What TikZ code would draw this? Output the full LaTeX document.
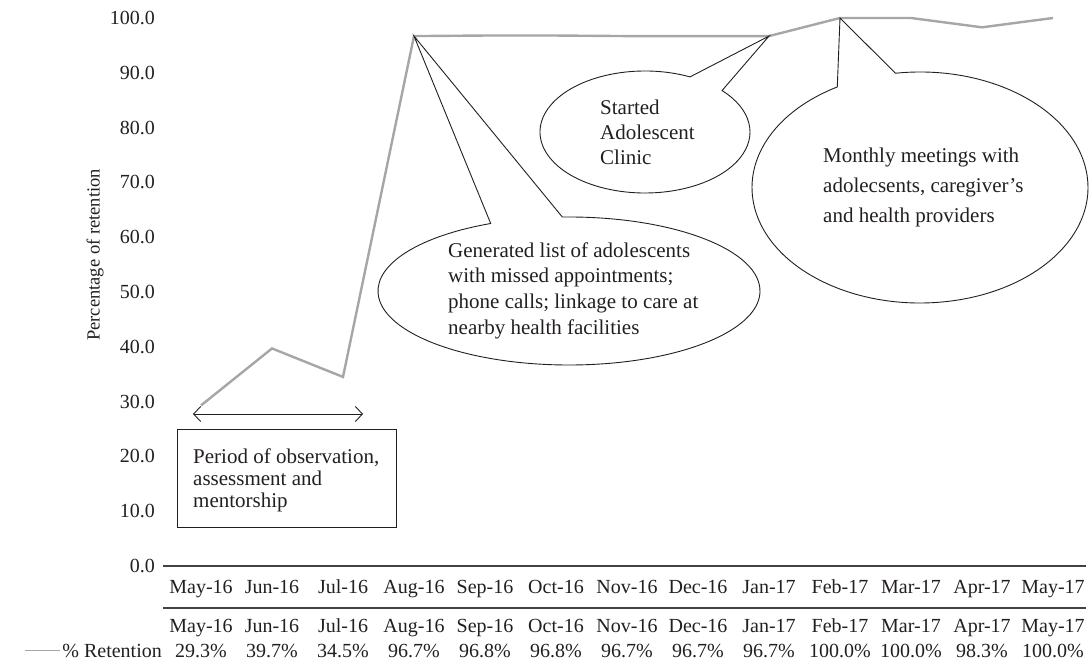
\documentclass[tikz,border=0pt]{standalone}
\usepackage{fontspec}
\setmainfont{Liberation Serif}
\usetikzlibrary{arrows.meta}
\definecolor{dataline}{HTML}{A6A6A6}
\definecolor{ink}{HTML}{231F20}
\begin{document}
\begin{tikzpicture}[x=1pt,y=1pt,
  lbl/.style={font=\fontsize{20}{24}\selectfont, text=ink, inner sep=0pt},
  ticklbl/.style={lbl, anchor=east},
  cell/.style={lbl, anchor=base},
  calltext/.style={text=ink, align=left, inner sep=0pt, anchor=west},
  callout/.style={draw=ink, line width=0.9pt, line join=miter},
  axisline/.style={draw=ink!85, line width=1.3pt},
  series/.style={draw=dataline, line width=2.4pt, line join=miter},
  barbs/.style={draw=ink, line width=0.9pt, {Straight Barb[length=7pt,width=15pt]}-{Straight Barb[length=7pt,width=15pt]}}
]
\useasboundingbox (0,0) rectangle (1090,662);

% y axis tick labels
\foreach \k/\t in {0/0.0,1/10.0,2/20.0,3/30.0,4/40.0,5/50.0,6/60.0,7/70.0,8/80.0,9/90.0,10/100.0}
  \node[ticklbl] (tick\k) at (155,{96+54.8*\k}) {\t};

% axis title
\node[lbl, font=\fontsize{18.5}{22}\selectfont, rotate=90] (ytitle) at (95,407) {Percentage of retention};

% axis and table lines
\coordinate (axL) at (163,96);
\coordinate (axR) at (1086,96);
\coordinate (tbL) at (163,54);
\coordinate (tbR) at (1086,54);
\draw[axisline] (axL) -- (axR);
\draw[axisline] (tbL) -- (tbR);

% category labels (axis row and table header row)
\foreach \m [count=\i from 0] in {May-16,Jun-16,Jul-16,Aug-16,Sep-16,Oct-16,Nov-16,Dec-16,Jan-17,Feb-17,Mar-17,Apr-17,May-17} {
  \node[cell] (c\i) at ({201+71*\i},69) {\m};
  \node[cell] (r\i) at ({201+71*\i},30) {\m};
}

% values and data points
\foreach \val [count=\i from 0] in {29.3,39.7,34.5,96.7,96.8,96.8,96.7,96.7,96.7,100.0,100.0,98.3,100.0} {
  \node[cell] (v\i) at ({201+71*\i},5) {\val\%};
  \coordinate (p\i) at ({201+71*\i},{96+5.48*\val});
}

% legend
\coordinate (lgA) at (25,12);
\coordinate (lgB) at (60,12);
\draw[draw=dataline, line width=1pt] (lgA) -- (lgB);
\node[cell, anchor=base east] (legtxt) at (162,5) {\% Retention};

% data series
\draw[series] (p0) -- (p1) -- (p2) -- (p3) -- (p4) -- (p5) -- (p6) -- (p7) -- (p8) -- (p9) -- (p10) -- (p11) -- (p12);

% observation period
\coordinate (arL) at (193,248);
\coordinate (arR) at (363,248);
\draw[barbs] (arL) -- (arR);
\node[draw=ink, line width=0.9pt, minimum width=219pt, minimum height=98pt, inner sep=0pt] (obsbox) at (286.5,184) {};
\node[calltext, font=\fontsize{21}{22}\selectfont] (obstext) at (193,182) {Period of observation,\\assessment and\\mentorship};

% callout A
\coordinate (cA) at (569,371);
\draw[callout] ([shift={(92:191 and 74)}]cA) arc[start angle=92, end angle=-245.8, x radius=191, y radius=74] -- (p3) -- cycle;
\node[calltext, font=\fontsize{21}{25.6}\selectfont] (txtA) at (448,371.5) {Generated list of adolescents\\with missed appointments;\\phone calls; linkage to care at\\nearby health facilities};

% callout B
\coordinate (cB) at (645,530);
\draw[callout] ([shift={(64.6:105 and 61)}]cB) arc[start angle=64.6, end angle=402.8, x radius=105, y radius=61] -- (p8) -- cycle;
\node[calltext, font=\fontsize{21}{25}\selectfont] (txtB) at (600,530) {Started\\Adolescent\\Clinic};

% callout C
\coordinate (cC) at (920,474.5);
\draw[callout] ([shift={(98.4:168 and 115.5)}]cC) arc[start angle=98.4, end angle=-240.5, x radius=168, y radius=115.5] -- (p9) -- cycle;
\node[calltext, font=\fontsize{21}{30}\selectfont] (txtC) at (823,474.5) {Monthly meetings with\\adolecsents, caregiver's\\and health providers};
\end{tikzpicture}
\end{document}
